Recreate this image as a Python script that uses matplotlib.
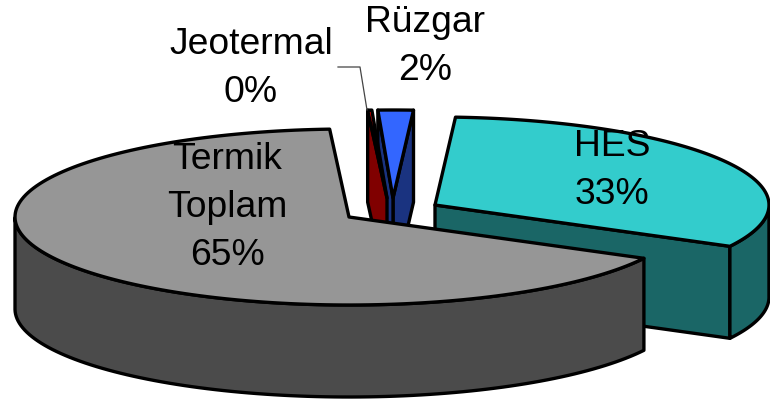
import numpy as np
import matplotlib
matplotlib.use("Agg")
import matplotlib.pyplot as plt
from matplotlib.patches import Polygon

plt.rcParams["font.family"] = ["Liberation Sans", "DejaVu Sans"]

# slice sizes, printed labels differ a little
names = ["HES", "Rüzgar", "Jeotermal", "Termik\nToplam"]
shares = [31.8, 1.7, 0.2, 66.3]
printed = ["33%", "2%", "0%", "65%"]
top_colors = ["#33CCCC", "#3366FF", "#FF0000", "#969696"]
side_colors = ["#1A6666", "#1A3380", "#800000", "#4B4B4B"]

# exploded slice centres in pixels
centers = [(435, 205), (393, 198), (387, 198), (349, 217)]
label_pos = [(612, 170.5), (425, 46.5), (251, 68.5), (227, 207.5)]

start_angle = -28.0
rx = 334
ry = 88
depth = 92
lw = 2.4


def ell(c, ang):
    a = np.radians(ang)
    return np.column_stack([c[0] + rx * np.cos(a), c[1] - ry * np.sin(a)])


def add_poly(ax, pts, color, z):
    ax.add_patch(Polygon(pts, closed=True, facecolor=color, edgecolor="black",
                         linewidth=lw, joinstyle="round", zorder=z))


def draw_slice(ax, c, a0, a1, top, side, z):
    apex = np.array([c])
    down = np.array([0, depth])
    # only the cut faces turned towards the viewer
    for ang, visible in ((a0, np.cos(np.radians(a0)) > 0), (a1, np.cos(np.radians(a1)) < 0)):
        if visible:
            edge = ell(c, [ang])
            add_poly(ax, np.vstack([apex, edge, edge + down, apex + down]), side, z)
    # outer wall only where it faces the viewer
    angs = np.linspace(a0, a1, 160)
    front = angs[np.sin(np.radians(angs)) < 0]
    if len(front) > 1:
        rim = ell(c, front)
        add_poly(ax, np.vstack([rim, (rim + down)[::-1]]), side, z)
    add_poly(ax, np.vstack([apex, ell(c, angs)]), top, z)


fig = plt.figure(figsize=(7.7, 4.01), dpi=100)
ax = fig.add_axes([0, 0, 1, 1])
ax.set_xlim(0, 770)
ax.set_ylim(401, 0)
ax.axis("off")

angle = start_angle
for i in range(len(shares)):
    span = shares[i] / sum(shares) * 360
    draw_slice(ax, centers[i], angle, angle + span, top_colors[i], side_colors[i], i + 1)
    angle += span

# leader line for the 0% label
ax.plot([338, 360, 367], [67, 67, 110], color="#444444", lw=0.9, zorder=6)

for i in range(len(names)):
    ax.text(label_pos[i][0], label_pos[i][1], names[i] + "\n" + printed[i],
            ha="center", va="center", fontsize=26.8, linespacing=1.47,
            color="black", zorder=10)

fig.savefig("out.png", dpi=100)
